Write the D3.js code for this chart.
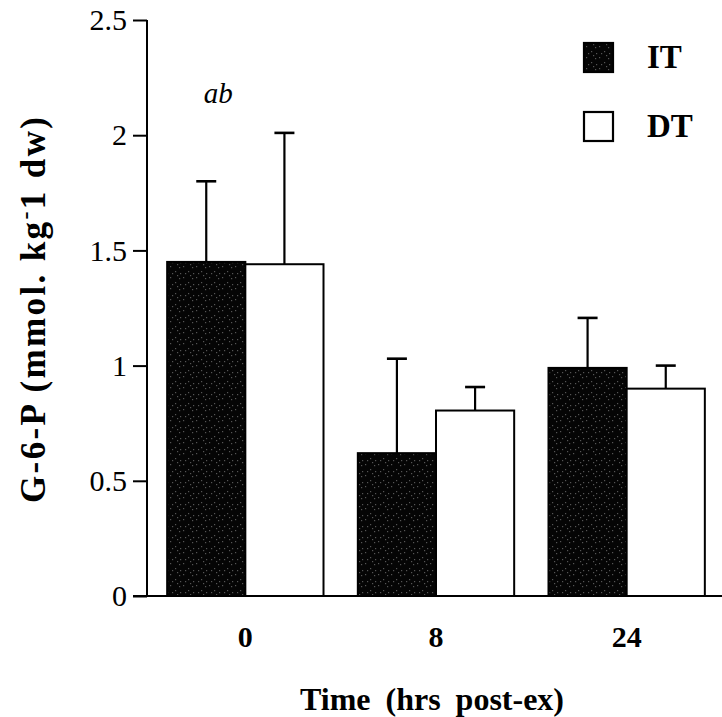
<!DOCTYPE html>
<html><head><meta charset="utf-8">
<script src="https://cdn.jsdelivr.net/npm/d3@7"></script>
<style>body{margin:0;background:#fff}svg{display:block}
svg text{font-family:"Liberation Serif","DejaVu Serif","Tinos","Times New Roman",Times,serif !important;}</style>
</head><body>
<svg id="c" width="722" height="717"></svg>
<script>
const categories = ["0", "8", "24"];
const seriesNames = ["IT", "DT"];
const itValues = [1.45, 0.62, 0.99];
const itErrTop = [1.80, 1.03, 1.207];
const dtValues = [1.44, 0.805, 0.90];
const dtErrTop = [2.01, 0.907, 1.0];
const yTicks = [0, 0.5, 1, 1.5, 2, 2.5];
const yTickLabels = ["0", "0.5", "1", "1.5", "2", "2.5"];
const annotations = [{cat: "0", series: "IT", value: 2.14, text: "ab"}];

const svg = d3.select("#c");

const defs = svg.append("defs");
const pat = defs.append("pattern").attr("id", "speck").attr("patternUnits", "userSpaceOnUse")
  .attr("width", 13).attr("height", 11);
pat.append("rect").attr("width", 13).attr("height", 11).attr("fill", "#050505");
[[1,2],[6,7],[10,3],[3,9],[8,0],[11,9]].forEach(p =>
  pat.append("rect").attr("x", p[0]).attr("y", p[1]).attr("width", 1.2).attr("height", 1.2).attr("fill", "#555"));

const y = d3.scaleLinear().domain([0, 2.5]).range([596, 20]);
const x0 = d3.scaleBand().domain(categories).range([150, 722]).paddingInner(0.18).paddingOuter(0.09);
const x1 = d3.scaleBand().domain(seriesNames).range([0, x0.bandwidth()]);

const data = [];
categories.forEach((c, i) => {
  data.push({cat: c, s: "IT", v: itValues[i], e: itErrTop[i]});
  data.push({cat: c, s: "DT", v: dtValues[i], e: dtErrTop[i]});
});

// error bars (behind bars)
const eb = svg.append("g").attr("stroke", "#000").attr("stroke-width", 2.2);
data.forEach(d => {
  const cx = x0(d.cat) + x1(d.s) + x1.bandwidth() / 2;
  eb.append("line").attr("x1", cx).attr("x2", cx).attr("y1", y(d.v)).attr("y2", y(d.e));
  eb.append("line").attr("x1", cx - 10).attr("x2", cx + 10).attr("y1", y(d.e)).attr("y2", y(d.e)).attr("stroke-width", 2.6);
});

// bars
svg.append("g").selectAll("rect").data(data).join("rect")
  .attr("x", d => x0(d.cat) + x1(d.s))
  .attr("y", d => y(d.v))
  .attr("width", x1.bandwidth())
  .attr("height", d => y(0) - y(d.v))
  .attr("fill", d => d.s === "IT" ? "url(#speck)" : "#fff")
  .attr("stroke", "#000").attr("stroke-width", 2);

// x baseline
svg.append("line").attr("x1", 133).attr("x2", 722).attr("y1", y(0)).attr("y2", y(0))
  .attr("stroke", "#000").attr("stroke-width", 2);

// y axis
const yAxis = d3.axisLeft(y).tickValues(yTicks).tickFormat((d, i) => yTickLabels[i]).tickSize(14).tickPadding(6);
const gy = svg.append("g").attr("transform", "translate(147,0)").call(yAxis);
gy.select(".domain").attr("stroke-width", 2).attr("d", `M0,${y(2.5)}V${y(0)}`);
gy.selectAll(".tick line").attr("stroke-width", 2);
gy.selectAll(".tick text").attr("font-size", 30).attr("fill", "#000");

// x tick labels
const xAxis = d3.axisBottom(x0).tickSize(0).tickPadding(0);
const gx = svg.append("g").attr("transform", `translate(0,${y(0)})`).call(xAxis);
gx.select(".domain").remove();
gx.selectAll(".tick text").attr("font-size", 30).attr("font-weight", "bold")
  .attr("dy", null).attr("y", 51).attr("fill", "#000");

// axis titles
svg.append("text").attr("x", 432).attr("y", 710).attr("text-anchor", "middle")
  .attr("font-weight", "bold").attr("font-size", 32)
  .attr("word-spacing", 7).text("Time (hrs post-ex)");

const yl = svg.append("text").attr("transform", "translate(45,310) rotate(-90)")
  .attr("text-anchor", "middle").attr("font-weight", "bold")
  .attr("font-size", 35).attr("textLength", 386).attr("lengthAdjust", "spacing");
yl.append("tspan").text("G-6-P  (mmol.  kg");
yl.append("tspan").attr("dy", -12).attr("font-size", 24).text("-");
yl.append("tspan").attr("dy", 12).text("1  dw)");

// annotation
annotations.forEach(a => {
  svg.append("text").attr("x", x0(a.cat) + x1(a.series) + x1.bandwidth() / 2 + 12).attr("y", y(a.value))
    .attr("text-anchor", "middle").attr("font-style", "italic")
    .attr("font-size", 29).text(a.text);
});

// legend
const legend = svg.append("g");
seriesNames.forEach((s, i) => {
  const gy0 = 43 + i * 69;
  legend.append("rect").attr("x", 584).attr("y", gy0).attr("width", 29).attr("height", 29)
    .attr("fill", s === "IT" ? "url(#speck)" : "#fff").attr("stroke", "#000").attr("stroke-width", 2.2);
  legend.append("text").attr("x", 647).attr("y", gy0 + 25)
    .attr("font-weight", "bold").attr("font-size", 33).text(s);
});
</script>
</body></html>
